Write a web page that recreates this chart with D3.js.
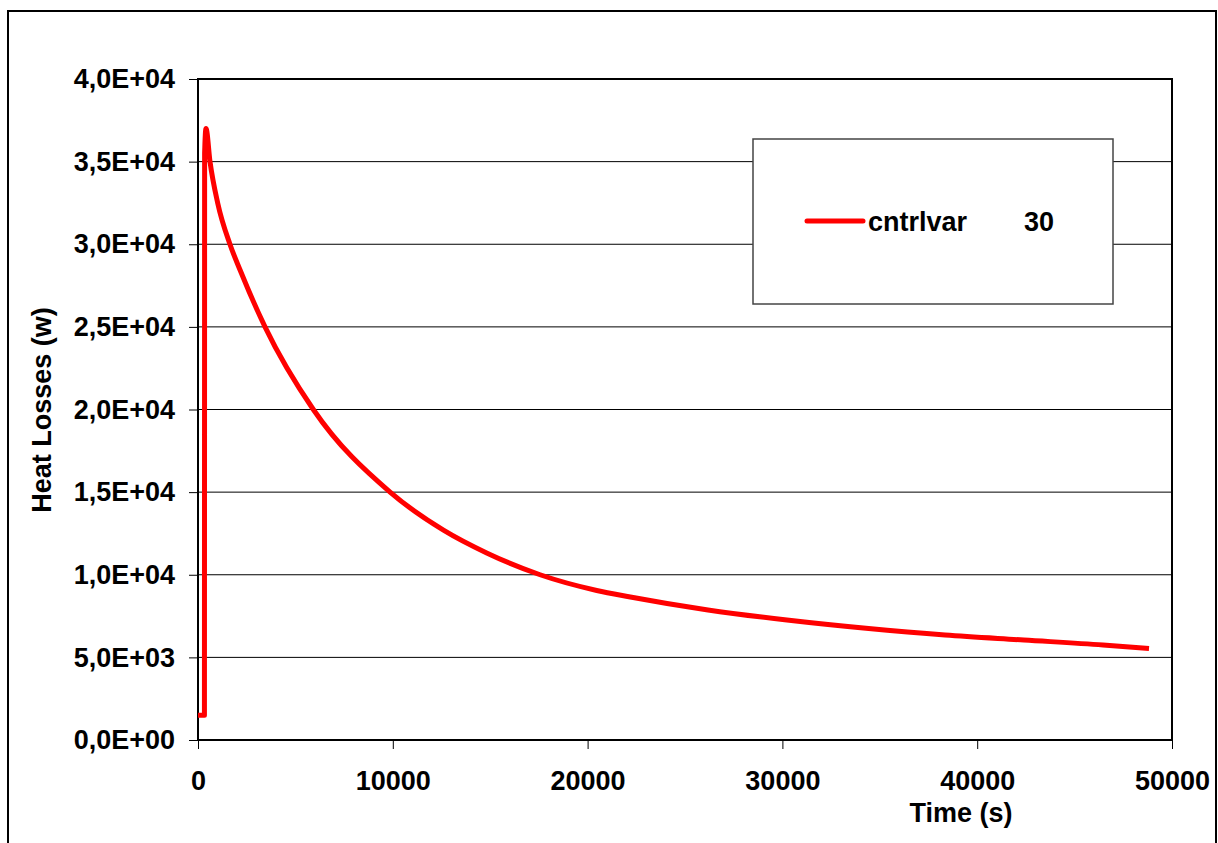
<!DOCTYPE html>
<html>
<head>
<meta charset="utf-8">
<script src="https://cdn.jsdelivr.net/npm/d3@7"></script>
<style>
  body { margin: 0; background: #fff; }
  text { font-family: "Liberation Sans", Arial, sans-serif; font-weight: bold; }
</style>
</head>
<body>
<div id="chart"></div>
<script>
// Time (s) and heat losses (W)
const timeValues = [0, 330, 340, 411, 616, 1010, 1640, 2160, 3440, 5920, 9860, 12600, 14820,
    17560, 20470, 22120, 26180, 30230, 34290, 38350, 42400, 46460, 48820];
const heatValues = [1500, 1500, 35500, 37000, 35000, 32500, 30000, 28440, 25000, 20000, 15000, 12700, 11320,
    10000, 9050, 8670, 7870, 7260, 6760, 6350, 6050, 5750, 5530];

const xTicks = [0, 10000, 20000, 30000, 40000, 50000];
const yTicks = [0, 5000, 10000, 15000, 20000, 25000, 30000, 35000, 40000];
const seriesName = "cntrlvar";
const seriesNumber = "30";

const width = 1218, height = 843;
const margin = { top: 79, right: 46, bottom: 103, left: 198 };
const w = width - margin.left - margin.right;
const h = height - margin.top - margin.bottom;

const svg = d3.select("#chart").append("svg")
    .attr("width", width)
    .attr("height", height);

// outer chart border
svg.append("rect")
    .attr("x", 8).attr("y", 11)
    .attr("width", 1208).attr("height", 850)
    .attr("fill", "none").attr("stroke", "#000").attr("stroke-width", 2);

const g = svg.append("g").attr("transform", `translate(${margin.left},${margin.top})`);

const x = d3.scaleLinear().domain([0, 50000]).range([0, w]);
const y = d3.scaleLinear().domain([0, 40000]).range([h, 0]);

// format like 4,0E+04
const sci = v => {
    if (v === 0) return "0,0E+00";
    const e = Math.floor(Math.log10(v));
    const m = (v / Math.pow(10, e)).toFixed(1).replace(".", ",");
    return `${m}E+${String(e).padStart(2, "0")}`;
};

// gridlines
g.selectAll(".grid")
    .data(yTicks.filter(d => d > 0 && d < 40000))
    .enter().append("line")
    .attr("x1", 0).attr("x2", w)
    .attr("y1", d => y(d)).attr("y2", d => y(d))
    .attr("stroke", "#000").attr("stroke-width", 1);

// y axis
const yAxis = g.append("g")
    .call(d3.axisLeft(y).tickValues(yTicks).tickFormat(sci).tickSize(9).tickPadding(14));
yAxis.select(".domain").remove();
yAxis.selectAll("line").attr("stroke", "#000");
yAxis.selectAll("text").attr("font-size", "27px").attr("fill", "#000")
    .style("font-family", '"Liberation Sans", Arial, sans-serif').style("font-weight", "bold");

// x axis
const xAxis = g.append("g")
    .attr("transform", `translate(0,${h})`)
    .call(d3.axisBottom(x).tickValues(xTicks).tickFormat(d3.format("d")).tickSize(9).tickPadding(22));
xAxis.select(".domain").remove();
xAxis.selectAll("line").attr("stroke", "#000");
xAxis.selectAll("text").attr("font-size", "27px").attr("fill", "#000")
    .style("font-family", '"Liberation Sans", Arial, sans-serif').style("font-weight", "bold");

// plot frame
g.append("rect")
    .attr("x", 0).attr("y", 0).attr("width", w).attr("height", h)
    .attr("fill", "none").attr("stroke", "#000").attr("stroke-width", 2);

// series line
const points = timeValues.map((t, i) => [t, heatValues[i]]);
const line = d3.line()
    .x(d => x(d[0]))
    .y(d => y(d[1]))
    .curve(d3.curveMonotoneX);

g.append("path")
    .datum(points)
    .attr("fill", "none")
    .attr("stroke", "#ff0000")
    .attr("stroke-width", 5)
    .attr("stroke-linejoin", "round")
    .attr("d", line);

// axis titles
svg.append("text")
    .attr("x", 961).attr("y", 822)
    .attr("text-anchor", "middle")
    .attr("font-size", "27px")
    .text("Time (s)");

svg.append("text")
    .attr("transform", "translate(51,410) rotate(-90)")
    .attr("text-anchor", "middle")
    .attr("font-size", "27px")
    .text("Heat Losses (w)");

// legend
const legend = svg.append("g").attr("transform", "translate(753,139)");
legend.append("rect")
    .attr("width", 360).attr("height", 165)
    .attr("fill", "#fff").attr("stroke", "#444").attr("stroke-width", 1.5);
legend.append("line")
    .attr("x1", 54).attr("x2", 110).attr("y1", 82).attr("y2", 82)
    .attr("stroke", "#ff0000").attr("stroke-width", 5).attr("stroke-linecap", "round");
legend.append("text")
    .attr("x", 115).attr("y", 92)
    .attr("font-size", "27px")
    .text(seriesName);
legend.append("text")
    .attr("x", 271).attr("y", 92)
    .attr("font-size", "27px")
    .text(seriesNumber);
</script>
</body>
</html>
